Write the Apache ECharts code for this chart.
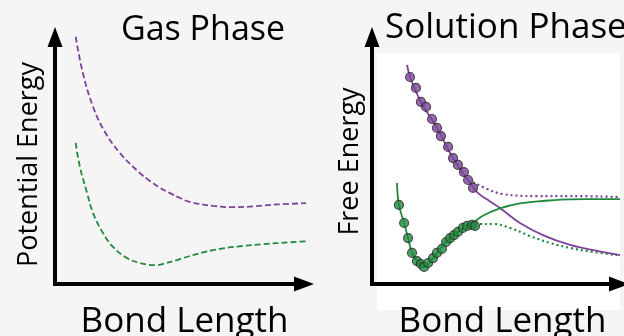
<!DOCTYPE html>
<html>
<head>
<meta charset="utf-8">
<script src="https://cdn.jsdelivr.net/npm/echarts@6/dist/echarts.min.js"></script>
<style>html,body{margin:0;padding:0;background:#f5f5f5;}#c{width:624px;height:336px;}</style>
</head>
<body>
<div id="c"></div>
<script>
// Gas phase (left panel) curves: [bond length, energy]
const gasPurple = [[0.83,10.01],[1.12,8.54],[1.53,7.17],[1.98,6.2],[2.61,5.30],[3.41,4.49],[3.82,4.17],[4.22,3.89],[4.62,3.68],[5.02,3.48],[5.42,3.32],[6.35,3.16],[7.15,3.11],[7.95,3.14],[8.92,3.22],[10.36,3.28]];
const gasGreen = [[0.83,5.71],[1.00,4.74],[1.29,3.68],[1.53,2.87],[1.93,2.06],[2.33,1.50],[2.89,1.05],[3.41,0.85],[3.82,0.77],[4.10,0.76],[4.34,0.81],[4.90,0.97],[5.14,1.05],[5.94,1.28],[6.75,1.44],[7.55,1.54],[8.35,1.61],[9.44,1.69],[10.36,1.74]];
// Solution phase (right panel)
const solPurpleFit = [[1.42,8.87],[1.54,8.38],[1.98,7.37],[2.63,6.32],[3.28,5.10],[3.89,4.21],[4.25,3.72],[4.78,3.34],[5.18,3.08],[5.99,2.47],[6.92,1.98],[8.02,1.58],[9.11,1.34],[10.04,1.17]];
const solPurpleDotted = [[4.09,4.13],[4.66,3.85],[5.30,3.64],[6.68,3.56],[8.02,3.56],[10.04,3.52]];
const solGreenFit = [[1.01,4.09],[1.09,3.20],[1.30,2.47],[1.46,1.86],[1.62,1.26],[1.82,0.93],[2.11,0.69],[2.47,1.05],[3.00,1.70],[3.48,2.11],[4.05,2.45],[4.49,2.76],[5.18,3.06],[5.99,3.26],[6.92,3.36],[8.02,3.43],[10.04,3.44]];
const solGreenDotted = [[4.17,2.43],[4.37,2.43],[4.90,2.43],[5.59,2.27],[6.40,1.94],[7.21,1.66],[8.02,1.46],[8.95,1.30],[9.92,1.17]];
const solPurplePoints = [[1.54,8.38],[1.78,7.94],[1.98,7.37],[2.19,7.17],[2.43,6.68],[2.63,6.32],[2.79,5.99],[3.08,5.55],[3.28,5.10],[3.48,4.82],[3.72,4.53],[3.89,4.21],[4.09,3.89]];
const solGreenPoints = [[1.09,3.20],[1.30,2.47],[1.46,1.86],[1.62,1.26],[1.82,0.93],[1.98,0.81],[2.11,0.69],[2.27,0.85],[2.47,1.05],[2.63,1.26],[2.83,1.42],[3.00,1.70],[3.16,1.86],[3.32,1.98],[3.48,2.11],[3.68,2.27],[3.85,2.35],[4.05,2.39],[4.17,2.35]];
const titles = ['Gas Phase','Solution Phase'];
const xNames = ['Bond Length','Bond Length'];
const yNames = ['Potential Energy','Free Energy'];

const PURPLE = '#7b439b', GREEN = '#21893d';
const FONT = 'Open Sans';
const chart = echarts.init(document.getElementById('c'));
function axisLine(){
  return {show:true, symbol:['none','triangle'], symbolSize:[15,20],
    lineStyle:{color:'#000', width:4, cap:'square'}};
}
function xAx(i){
  return {type:'value', gridIndex:i, min:0, max:10, axisLine:axisLine(), axisTick:{show:false},
    axisLabel:{show:false}, splitLine:{show:false},
    name:xNames[i], nameLocation:'middle', nameGap:21,
    nameTextStyle:{fontFamily:FONT, fontSize:35, color:'#000', verticalAlign:'top', padding:[0,0,0,i===0?10:14]}};
}
function yAx(i){
  return {type:'value', gridIndex:i, min:0, max:10, axisLine:axisLine(), axisTick:{show:false},
    axisLabel:{show:false}, splitLine:{show:false},
    name:yNames[i], nameLocation:'middle', nameGap:i===0?12:8, nameRotate:90,
    nameTextStyle:{fontFamily:FONT, fontSize:27, color:'#000', padding:[0,0,0,i===0?-8:-2]}};
}
function line(data, xi, color, type, width){
  return {type:'line', xAxisIndex:xi, yAxisIndex:xi, data:data, smooth:0.4, symbol:'none', clip:false,
    lineStyle:{color:color, width:width, type:type}, silent:true, animation:false};
}
function dots(data, color){
  return {type:'scatter', xAxisIndex:1, yAxisIndex:1, data:data, symbolSize:9, clip:false,
    itemStyle:{color:color, borderColor:'#2a2a2a', borderWidth:1.2}, z:5, animation:false, silent:true};
}
chart.setOption({
  backgroundColor:'#f5f5f5',
  animation:false,
  title:[
    {text:titles[0], left:198, top:8, textAlign:'center', textStyle:{fontFamily:FONT, fontSize:34, fontWeight:'normal', color:'#000'}},
    {text:titles[1], left:380, top:6, textStyle:{fontFamily:FONT, fontSize:35, fontWeight:'normal', color:'#000'}}
  ],
  graphic:[{type:'rect', z:-10, shape:{x:377, y:53, width:243, height:257}, style:{fill:'#ffffff'}}],
  grid:[
    {left:55, top:37, width:249, height:247, containLabel:false, outerBoundsMode:'none'},
    {left:372, top:37, width:247, height:247, containLabel:false, outerBoundsMode:'none'}
  ],
  xAxis:[xAx(0), xAx(1)],
  yAxis:[yAx(0), yAx(1)],
  series:[
    line(gasPurple,0,PURPLE,[6,3],1.8),
    line(gasGreen,0,GREEN,[6,3],1.8),
    line(solPurpleDotted,1,PURPLE,[2,3],2.2),
    line(solGreenDotted,1,GREEN,[2,3],2.2),
    line(solPurpleFit,1,PURPLE,'solid',1.8),
    line(solGreenFit,1,GREEN,'solid',1.8),
    dots(solPurplePoints,PURPLE),
    dots(solGreenPoints,GREEN)
  ]
});
</script>
</body>
</html>
